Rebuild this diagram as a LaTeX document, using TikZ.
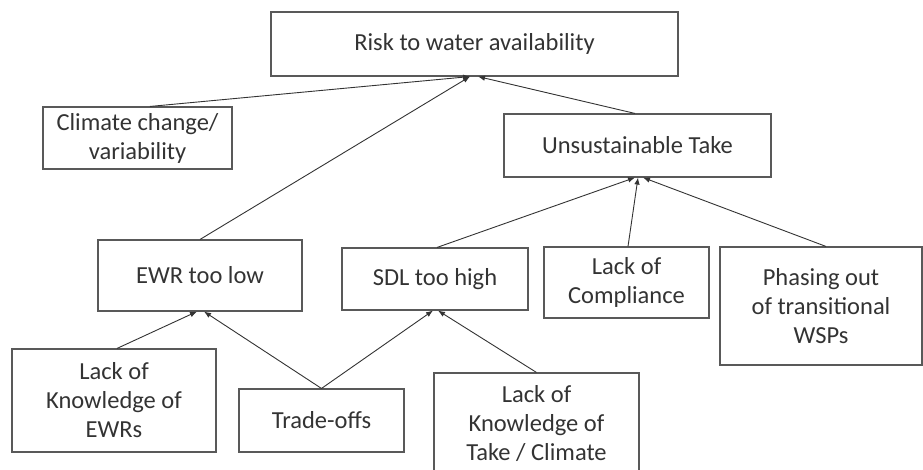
\documentclass[tikz,border=0pt]{standalone}
\usepackage{fontspec}
\setmainfont{Carlito}
\usetikzlibrary{arrows.meta}

\tikzset{
	cause/.style = {draw, rectangle, draw = black!65, line width = 1.1pt,
		text = black!80, align = center, inner sep = 0pt,
		font = \fontsize{24.5}{29}\selectfont},
	link/.style = {draw = black!80, line width = 0.9pt,
		-{Latex[length = 7pt, width = 5.5pt]}}
}

\begin{document}
\begin{tikzpicture}[x = 1pt, y = -1pt]
		\useasboundingbox (0,0) rectangle (923,470);
		\node [cause, minimum width = 407pt, minimum height = 64pt] (risk) at (474.5,44) {Risk to water availability};
		\node [cause, minimum width = 189pt, minimum height = 62pt] (climate) at (137.5,138) {Climate change/\\variability};
		\node [cause, minimum width = 267pt, minimum height = 63pt] (take) at (637.5,145.5) {Unsustainable Take};
		\node [cause, minimum width = 204pt, minimum height = 71pt] (ewr) at (200,275.5) {EWR too low};
		\node [cause, minimum width = 186pt, minimum height = 62pt] (sdl) at (435,279) {SDL too high};
		\node [cause, minimum width = 165pt, minimum height = 71pt] (comply) at (626.5,282.5) {Lack of\\Compliance};
		\node [cause, minimum width = 202pt, minimum height = 118pt] (phase) at (821,306) {Phasing out\\of transitional\\WSPs};
		\node [cause, minimum width = 204pt, minimum height = 103pt] (knowewr) at (114,400.5) {Lack of\\Knowledge of\\EWRs};
		\node [cause, minimum width = 165pt, minimum height = 63pt] (trade) at (321.5,420.5) {Trade-offs};
		\node [cause, minimum width = 205pt, minimum height = 102pt] (knowtake) at (536.5,424) {Lack of\\Knowledge of\\Take / Climate};

		\draw [link] ([xshift = 12.5pt]climate.north) -- ([xshift = -4.5pt]risk.south);
		\draw [link] (ewr.north) -- ([xshift = -4.5pt]risk.south);
		\draw [link] ([xshift = -2.5pt]take.north) -- ([xshift = 3.5pt]risk.south);
		\draw [link] ([xshift = 2pt]sdl.north) -- ([xshift = -2.5pt]take.south);
		\draw [link] ([xshift = 1.5pt]comply.north) -- ([xshift = 0.5pt]take.south);
		\draw [link] ([xshift = 5pt]phase.north) -- ([xshift = 5.5pt]take.south);
		\draw [link] ([xshift = 3pt]knowewr.north) -- ([xshift = -3pt]ewr.south);
		\draw [link] (trade.north) -- ([xshift = 4pt]ewr.south);
		\draw [link] (trade.north) -- ([xshift = -2pt]sdl.south);
		\draw [link] (knowtake.north) -- ([xshift = 3pt]sdl.south);
	\end{tikzpicture}
\end{document}
